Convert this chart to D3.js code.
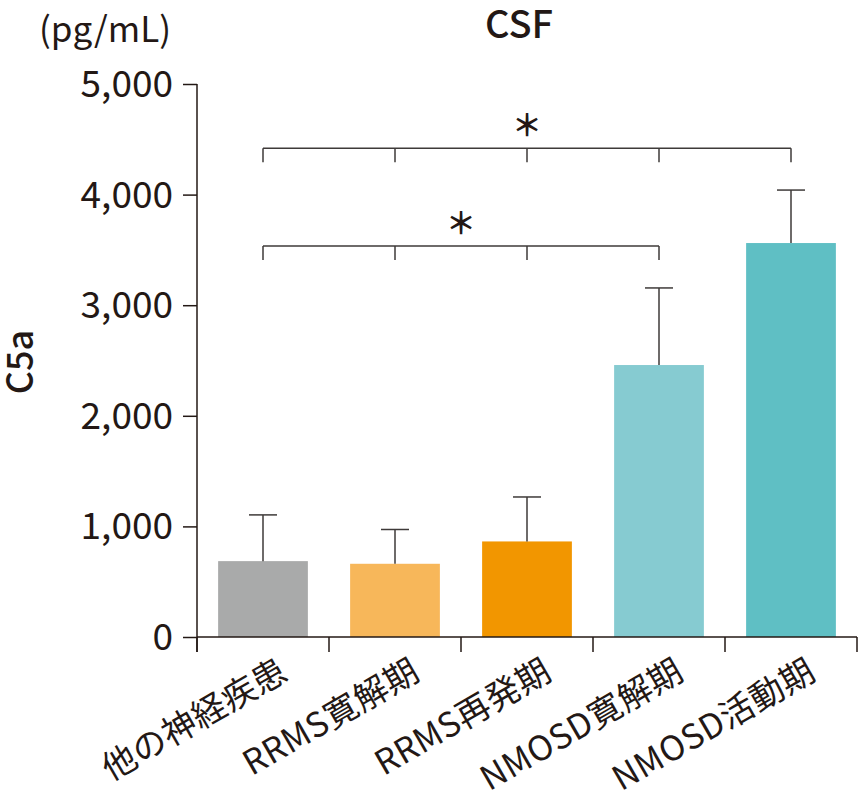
<!DOCTYPE html>
<html>
<head>
<meta charset="utf-8">
<script src="https://cdn.jsdelivr.net/npm/d3@7"></script>
<style>
  html, body { margin: 0; padding: 0; background: #fff; }
  svg { display: block; }
  text { font-family: "Noto Sans CJK JP", "Noto Sans", sans-serif; fill: #231815; }
</style>
</head>
<body>
<svg id="chart" width="860" height="800"></svg>
<script>
// ---- data ----
const categories = ["他の神経疾患", "RRMS寛解期", "RRMS再発期", "NMOSD寛解期", "NMOSD活動期"];
const means = [686, 662, 864, 2459, 3562];
const sds = [418, 310, 402, 697, 479];
const colors = ["#a9aaaa", "#f7b75a", "#f29600", "#86cbd1", "#5fbfc4"];
const yTicks = [0, 1000, 2000, 3000, 4000, 5000];
const brackets = [
  { from: 0, to: 4, level: 4420, label: "＊" },
  { from: 0, to: 3, level: 3535, label: "＊" }
];
const title = "CSF";
const yLabel = "C5a";
const unitLabel = "(pg/mL)";

// ---- layout ----
const svg = d3.select("#chart");
const ink = "#231815";
const x = d3.scaleBand().domain(categories).range([197, 857]).paddingInner(0.32).paddingOuter(0.16);
const y = d3.scaleLinear().domain([0, 5000]).range([637, 84]);
const step = x.step();
const cx = d => x(d) + x.bandwidth() / 2;

// bars
svg.append("g").selectAll("rect").data(categories).join("rect")
  .attr("x", d => x(d))
  .attr("width", x.bandwidth())
  .attr("y", (d, i) => y(means[i]))
  .attr("height", (d, i) => y(0) - y(means[i]))
  .attr("fill", (d, i) => colors[i]);

// error bars
const eb = svg.append("g").attr("stroke", "#3e3a39").attr("stroke-width", 1.5);
categories.forEach((d, i) => {
  eb.append("line").attr("x1", cx(d)).attr("x2", cx(d))
    .attr("y1", y(means[i])).attr("y2", y(means[i] + sds[i]));
  eb.append("line").attr("x1", cx(d) - 14).attr("x2", cx(d) + 14)
    .attr("y1", y(means[i] + sds[i])).attr("y2", y(means[i] + sds[i]));
});

// y axis
const yAxis = d3.axisLeft(y).tickValues(yTicks).tickSize(14).tickPadding(10)
  .tickFormat(d3.format(","));
const gy = svg.append("g").attr("transform", "translate(197,0)").call(yAxis);
gy.select(".domain").remove();
gy.selectAll(".tick line").attr("stroke", ink).attr("stroke-width", 1.5);
gy.selectAll(".tick text").style("font-size", "37px").attr("fill", ink).attr("dy", "0.34em");
svg.append("line").attr("x1", 197).attr("x2", 197).attr("y1", y(5000)).attr("y2", 652)
  .attr("stroke", ink).attr("stroke-width", 1.5);

// x axis line
svg.append("line").attr("x1", 197).attr("x2", 857).attr("y1", y(0)).attr("y2", y(0))
  .attr("stroke", ink).attr("stroke-width", 1.5);
// x ticks at band boundaries
const bounds = categories.map(d => cx(d) - step / 2).concat([cx(categories[categories.length - 1]) + step / 2]);
svg.append("g").selectAll("line").data(bounds).join("line")
  .attr("x1", d => d).attr("x2", d => d).attr("y1", y(0)).attr("y2", y(0) + 15)
  .attr("stroke", ink).attr("stroke-width", 1.5);

// x labels
svg.append("g").selectAll("text").data(categories).join("text")
  .attr("transform", d => `translate(${cx(d) + 27},${y(0) + 41}) rotate(-30)`)
  .attr("text-anchor", "end")
  .style("font-size", "34px")
  .style("letter-spacing", "0.5px")
  .text(d => d);

// brackets
const br = svg.append("g").attr("stroke", "#3e3a39").attr("stroke-width", 1.5).attr("fill", "none");
brackets.forEach(b => {
  const yy = y(b.level);
  br.append("line").attr("x1", cx(categories[b.from])).attr("x2", cx(categories[b.to]))
    .attr("y1", yy).attr("y2", yy);
  for (let k = b.from; k <= b.to; k++) {
    br.append("line").attr("x1", cx(categories[k])).attr("x2", cx(categories[k]))
      .attr("y1", yy).attr("y2", yy + 14);
  }
  svg.append("text")
    .attr("x", (cx(categories[b.from]) + cx(categories[b.to])) / 2)
    .attr("y", yy - 12)
    .attr("text-anchor", "middle")
    .style("font-size", "30px")
    .style("font-weight", 700)
    .text(b.label);
});

// title & labels
svg.append("text").attr("x", 519).attr("y", 38).attr("text-anchor", "middle")
  .style("font-size", "38px").style("font-weight", 500).text(title);
svg.append("text").attr("x", 105).attr("y", 42).attr("text-anchor", "middle")
  .style("font-size", "35px").text(unitLabel);
svg.append("text").attr("transform", "translate(33,362) rotate(-90)").attr("text-anchor", "middle")
  .style("font-size", "36px").style("font-weight", 500).text(yLabel);
</script>
</body>
</html>
